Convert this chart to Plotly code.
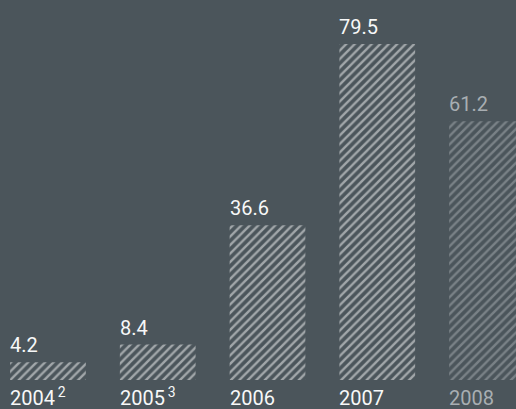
import plotly.graph_objects as go

# Annual figures by year
years = ["2004", "2005", "2006", "2007", "2008"]
year_labels = ["2004<sup>\u20092</sup>", "2005<sup>\u20093</sup>", "2006", "2007", "2008"]
values = [4.2, 8.4, 36.6, 79.5, 61.2]

BG = "#4b555b"
MAIN = "#f7f8f8"
FADED = "#a8aeb2"
colors = [MAIN, MAIN, MAIN, MAIN, FADED]

BAR_W = 0.69
idx = list(range(len(years)))

fig = go.Figure(
    go.Bar(
        x=idx,
        y=values,
        width=BAR_W,
        marker=dict(
            color="rgba(0,0,0,0)",
            line=dict(width=0),
            pattern=dict(shape="/", fgcolor=colors, bgcolor="rgba(0,0,0,0)",
                         size=6, solidity=0.4, fillmode="overlay"),
        ),
        hoverinfo="skip",
    )
)

font = dict(family="Roboto, Arial, sans-serif", size=20)
for i, (v, lab, c) in enumerate(zip(values, year_labels, colors)):
    left = i - BAR_W / 2
    fig.add_annotation(x=left, y=v, text=f"{v:.1f}", showarrow=False,
                       xanchor="left", yanchor="bottom", yshift=3, xshift=-2,
                       font=dict(font, color=c))
    fig.add_annotation(x=left, y=0, yref="paper", text=lab, showarrow=False,
                       xanchor="left", yanchor="bottom", yshift=-3, xshift=-2,
                       font=dict(font, color=c))

fig.update_layout(
    width=516, height=409,
    margin=dict(l=0, r=0, t=0, b=0),
    paper_bgcolor=BG, plot_bgcolor=BG,
    showlegend=False,
    xaxis=dict(range=[-0.437, 4.264], visible=False, fixedrange=True),
    yaxis=dict(range=[-6.86, 89.9], visible=False, fixedrange=True),
)

fig.write_html("out.html")
